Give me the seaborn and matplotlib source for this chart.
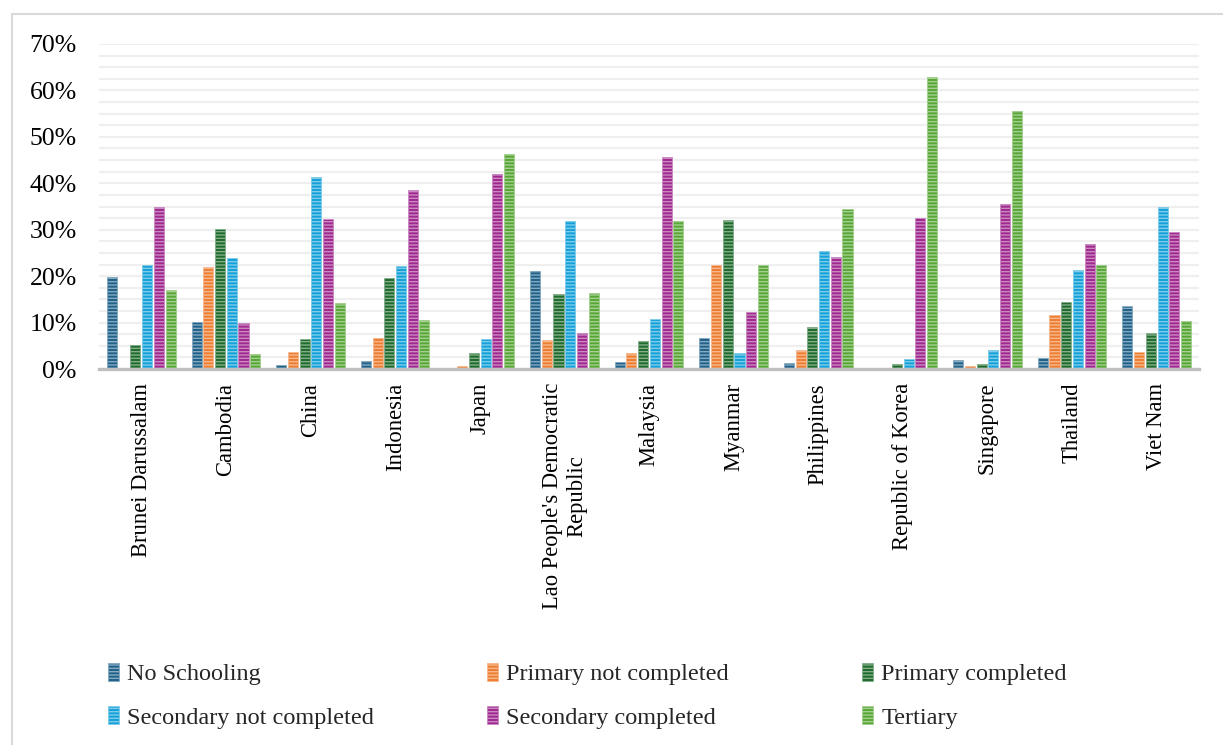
import numpy as np
import pandas as pd
import matplotlib
matplotlib.use("Agg")
import matplotlib.pyplot as plt
import matplotlib.colors as mcolors
from matplotlib.patches import Patch, Rectangle
from matplotlib.ticker import MultipleLocator, PercentFormatter
import seaborn as sns

# Educational attainment shares (%) by country
countries = [
    "Brunei Darussalam", "Cambodia", "China", "Indonesia", "Japan",
    "Lao People's Democratic\nRepublic", "Malaysia", "Myanmar", "Philippines",
    "Republic of Korea", "Singapore", "Thailand", "Viet Nam",
]
levels = [
    "No Schooling", "Primary not completed", "Primary completed",
    "Secondary not completed", "Secondary completed", "Tertiary",
]
no_schooling = [19.8, 10.1, 0.9, 1.7, 0.0, 21.1, 1.6, 6.6, 1.4, 0.0, 1.9, 2.4, 13.5]
primary_not_completed = [0.0, 21.9, 3.7, 6.6, 0.6, 6.2, 3.4, 22.3, 4.2, 0.0, 0.6, 11.6, 3.6]
primary_completed = [5.2, 30.1, 6.4, 19.6, 3.4, 16.1, 6.0, 32.2, 9.1, 1.1, 1.1, 14.4, 7.7]
secondary_not_completed = [22.4, 23.9, 41.4, 22.2, 6.4, 31.8, 10.8, 3.5, 25.5, 2.2, 4.1, 21.4, 34.8]
secondary_completed = [34.9, 9.9, 32.4, 38.6, 42.1, 7.7, 45.6, 12.2, 24.2, 32.6, 35.6, 26.9, 29.5]
tertiary = [17.0, 3.2, 14.3, 10.5, 46.4, 16.3, 31.8, 22.5, 34.5, 62.9, 55.5, 22.4, 10.3]

colors = ["#21628A", "#ED7D31", "#1F6B2C", "#14A1D9", "#A0298F", "#58A736"]

series = [no_schooling, primary_not_completed, primary_completed,
          secondary_not_completed, secondary_completed, tertiary]
df = pd.DataFrame({
    "country": np.repeat([countries], len(levels), axis=0).ravel(),
    "level": np.repeat(levels, len(countries)),
    "share": np.concatenate(series),
})

sns.set_theme(style="white")
plt.rcParams["font.family"] = ["Liberation Serif", "DejaVu Serif"]
plt.rcParams["hatch.linewidth"] = 1.0

W, H = 1223, 745
fig = plt.figure(figsize=(W / 100, H / 100), dpi=100)
ax = fig.add_axes([99 / W, 1 - 369 / H, 1100 / W, 325 / H])


def tint(c, amount=0.45):
    rgb = np.array(mcolors.to_rgb(c))
    return tuple(rgb + (1 - rgb) * amount)


sns.barplot(data=df, x="country", y="share", hue="level", order=countries,
            hue_order=levels, palette=colors, saturation=1, width=0.83,
            gap=0.14, legend=False, ax=ax)

# striped fill on every bar
for patch in ax.patches:
    fc = patch.get_facecolor()
    patch.set_edgecolor(tint(fc))
    patch.set_linewidth(0.6)
    patch.set_hatch("-----")

ax.set_ylim(0, 70)
ax.yaxis.set_major_locator(MultipleLocator(10))
ax.yaxis.set_minor_locator(MultipleLocator(2.5))
ax.yaxis.set_major_formatter(PercentFormatter(xmax=100, decimals=0))
ax.grid(False)
ax.grid(axis="y", which="both", color="#EFEFEF", linewidth=1.6)
ax.set_axisbelow(True)

for side in ("top", "right", "left"):
    ax.spines[side].set_visible(False)
ax.spines["bottom"].set_color("#BFBFBF")
ax.spines["bottom"].set_linewidth(2.4)
ax.spines["bottom"].set_zorder(5)

ax.set_xlabel("")
ax.set_ylabel("")
ax.tick_params(axis="y", which="both", length=0, labelsize=18.5, pad=16,
               colors="black")
ax.tick_params(axis="x", length=0, labelsize=16.3, pad=10, colors="black")
ax.set_xticks(range(len(countries)))
ax.set_xticklabels(countries, rotation=90, ha="center", va="top",
                   multialignment="center")

# legend: three columns of two entries each
handles = [Patch(facecolor=c, edgecolor=tint(c), linewidth=0.6, hatch="-----")
           for c in colors]
column_x = [108, 487, 862]
for col, x0 in enumerate(column_x):
    idx = [col, col + 3]
    fig.legend([handles[i] for i in idx], [levels[i] for i in idx],
               loc="upper left", bbox_to_anchor=(x0 / W, 1 - 663 / H),
               ncol=1, frameon=False, fontsize=17.5, handlelength=0.45,
               handleheight=0.75, handletextpad=0.35, labelspacing=0.86,
               borderaxespad=0, borderpad=0)

# outer chart border
fig.add_artist(Rectangle((12 / W, -0.1), 1.2, 1.1 - 14 / H,
                         transform=fig.transFigure, fill=False,
                         edgecolor="#D9D9D9", linewidth=1.5))

fig.savefig("out.png", dpi=100)
